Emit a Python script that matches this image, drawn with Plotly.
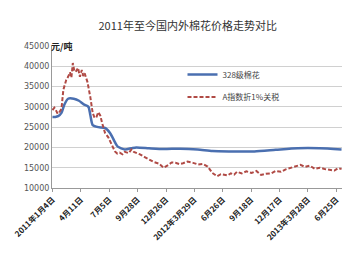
import plotly.graph_objects as go

# trading-day index (x) and price values (元/吨)
cn_days = [0, 6, 12, 19, 25, 33, 45, 56, 66, 76, 80, 85, 97, 111, 122, 132, 138, 153, 167, 177,
           204, 235, 270, 307, 338, 373, 427, 472, 518, 565, 611]
cn_price = [27500, 27500, 27700, 28500, 30500, 32000, 32000, 31500, 30600, 30000, 28000, 25500,
            25000, 24800, 23500, 21300, 20200, 19500, 19800, 20000,
            19800, 19600, 19700, 19500, 19100, 19000, 19000, 19400, 19800, 19800, 19500]

a_days = [0, 4, 8, 11, 14, 19, 23, 26, 29, 33, 37, 40, 43, 46, 49, 54, 58, 62, 65, 68, 74, 80, 85,
          89, 93, 97, 101, 105, 111, 118, 126, 132, 137, 142, 148, 153, 161, 167, 172, 177, 185,
          194, 203, 214, 225, 235, 245, 252, 260, 268, 276, 285, 297, 308, 318, 328, 338, 348,
          356, 363, 370, 377, 384, 390, 400, 410, 421, 431, 441, 451, 462, 472, 483, 493, 503,
          514, 524, 534, 544, 555, 565, 575, 586, 596, 604, 611]
a_price = [29200, 29800, 29000, 28300, 28600, 29500, 34200, 35800, 36600, 37400, 38500, 37200,
           40800, 39000, 38600, 39600, 37400, 39100, 37600, 38300, 36100, 32400, 28500,
           27300, 27500, 28700, 27900, 26000, 23600, 22500, 20600, 19000, 18500, 18700, 18300,
           18900, 18600, 19500, 18900, 18700, 18300,
           17700, 17200, 16400, 16000, 15000, 15700, 16300, 16200, 15900, 16100, 16500, 16200,
           15800, 15900, 15300, 13700, 12900, 13400, 13200, 13100, 13600, 13300, 14000, 13600,
           14100, 13700, 14200, 13200, 13500, 13600, 14200, 14000, 14600, 15000,
           15300, 15700, 15200, 15500, 14700, 15000, 14700, 14400, 14300, 14900, 14700]

tick_pos = [0, 60, 120, 180, 240, 300, 360, 420, 480, 540, 600]
tick_text = ["2011年1月4日", "4月11日", "7月5日", "9月28日", "12月26日", "2012年3月29日",
             "6月26日", "9月18日", "12月17日", "2013年3月28日", "6月25日"]
y_ticks = [10000, 15000, 20000, 25000, 30000, 35000, 40000, 45000]
y_text = ["10000", "15000", "20000", "25000", "30000", "35000", "40000", "45000"]

font_cn = "Noto Sans CJK SC"

fig = go.Figure()
fig.add_trace(go.Scatter(x=cn_days, y=cn_price, mode="lines", name="328级棉花",
                         line=dict(color="#4a6fb0", width=2.5, shape="spline", smoothing=0.6),
                         legend="legend"))
fig.add_trace(go.Scatter(x=a_days, y=a_price, mode="lines", name="A指数折1%关税",
                         line=dict(color="#b04a45", width=2, dash="4px,2px"),
                         legend="legend2"))

fig.update_layout(
    width=361, height=257,
    margin=dict(l=46, r=19, t=46, b=69),
    paper_bgcolor="white", plot_bgcolor="white",
    title=dict(text="2011年至今国内外棉花价格走势对比", x=0.52, xanchor="center",
               y=0.9, yanchor="middle", font=dict(family=font_cn, size=11, color="#333")),
    showlegend=True,
    legend=dict(x=0.45, y=0.80, xanchor="left", yanchor="middle", bgcolor="rgba(0,0,0,0)",
                font=dict(family=font_cn, size=8, color="#444")),
    legend2=dict(x=0.45, y=0.64, xanchor="left", yanchor="middle", bgcolor="rgba(0,0,0,0)",
                 font=dict(family=font_cn, size=8, color="#444")),
    xaxis=dict(range=[-1, 612], tickmode="array", tickvals=tick_pos, ticktext=tick_text,
               tickangle=-45, showgrid=False, showline=True, linecolor="#999", linewidth=1,
               ticks="outside", ticklen=3, tickcolor="#999", zeroline=False,
               tickfont=dict(family=font_cn, size=8, color="#222", weight="bold")),
    yaxis=dict(range=[10000, 45000], tickmode="array", tickvals=y_ticks, ticktext=y_text,
               showgrid=True, gridcolor="#d0d0d0", gridwidth=1, showline=True,
               linecolor="#999", linewidth=1, zeroline=False, ticks="",
               tickfont=dict(family="DejaVu Sans", size=8, color="#555")),
    annotations=[dict(text="<b>元/吨</b>", xref="paper", yref="paper", x=-0.01, y=1.0,
                      xanchor="left", yanchor="middle", showarrow=False,
                      font=dict(family=font_cn, size=9, color="#222"))],
)

fig.write_html("out.html")
